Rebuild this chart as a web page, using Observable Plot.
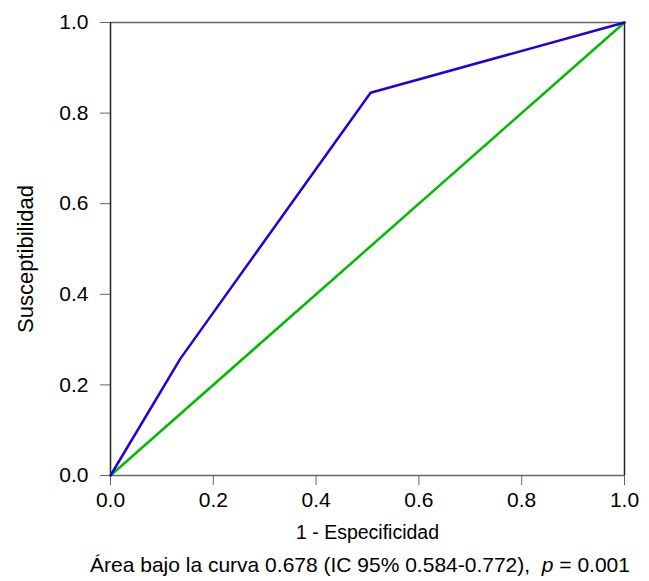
<!DOCTYPE html>
<html>
<head>
<meta charset="utf-8">
<script src="https://cdn.jsdelivr.net/npm/d3@7"></script>
<script src="https://cdn.jsdelivr.net/npm/@observablehq/plot@0.6"></script>
<style>
  body { margin: 0; background: #fff; font-family: "Liberation Sans", Arial, sans-serif; }
  #caption { position: absolute; left: 53px; top: 553px; width: 614px; text-align: center; font-size: 21px; color: #000; white-space: nowrap; }
</style>
</head>
<body>
<div id="chart"></div>
<div id="caption">Área bajo la curva 0.678 (IC 95% 0.584-0.772), &nbsp;<i>p</i> = 0.001</div>
<script>
const rocFpr = [0, 0.136, 0.506, 1];
const rocTpr = [0, 0.258, 0.845, 1];
const refFpr = [0, 1];
const refTpr = [0, 1];
const ticks = [0, 0.2, 0.4, 0.6, 0.8, 1.0];

const roc = rocFpr.map((x, i) => ({x, y: rocTpr[i]}));
const ref = refFpr.map((x, i) => ({x, y: refTpr[i]}));

const plot = Plot.plot({
  width: 649,
  height: 545,
  marginLeft: 110,
  marginRight: 25,
  marginTop: 22,
  marginBottom: 70,
  style: { fontFamily: "Liberation Sans, Arial, sans-serif", fontSize: "21px", color: "#000", background: "#fff" },
  x: { domain: [0, 1] },
  y: { domain: [0, 1] },
  marks: [
    Plot.axisX({ ticks, tickFormat: d3.format(".1f"), tickSize: 10, tickPadding: 7, stroke: "#666", fill: "#000", fontSize: 21, label: null }),
    Plot.axisY({ ticks, tickFormat: d3.format(".1f"), tickSize: 10, tickPadding: 12, stroke: "#666", fill: "#000", fontSize: 21, label: null }),
    Plot.text(["1 - Especificidad"], { frameAnchor: "bottom", lineAnchor: "middle", dy: 57, fontSize: 19.5, fill: "#000" }),
    Plot.text(["Susceptibilidad"], { frameAnchor: "left", textAnchor: "middle", lineAnchor: "middle", dx: -85, dy: 10, rotate: -90, fontSize: 22, fill: "#000" }),
    Plot.ruleY([0], { stroke: "#666", strokeWidth: 1.5 }),
    Plot.ruleY([1], { stroke: "#666", strokeWidth: 1.5 }),
    Plot.ruleX([0], { stroke: "#222", strokeWidth: 1.5 }),
    Plot.ruleX([1], { stroke: "#222", strokeWidth: 1.5 }),
    Plot.line(ref, { x: "x", y: "y", stroke: "#00bb00", strokeWidth: 2.5 }),
    Plot.line(roc, { x: "x", y: "y", stroke: "#2200dd", strokeWidth: 2.5 })
  ]
});
d3.select(plot).selectAll('g[aria-label="x-axis tick label"], g[aria-label="y-axis tick label"]').attr("font-size", 21);
document.getElementById("chart").appendChild(plot);
</script>
</body>
</html>
